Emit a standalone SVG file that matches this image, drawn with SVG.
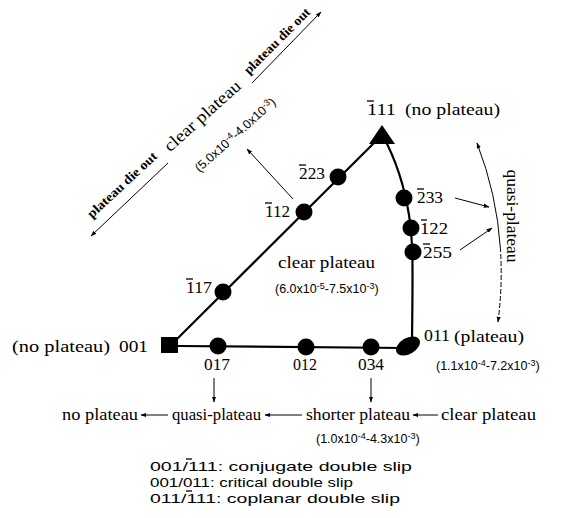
<svg xmlns="http://www.w3.org/2000/svg" width="567" height="518" viewBox="0 0 567 518">
<defs>
<marker id="ah" viewBox="0 0 10 10" refX="9" refY="5" markerWidth="6" markerHeight="6" orient="auto-start-reverse" markerUnits="userSpaceOnUse">
<path d="M0,1.5 L10,5 L0,8.5 z" fill="#000"/>
</marker>
<style>
.s{font-family:"Liberation Serif","Times New Roman",serif;font-size:17px;fill:#000}
.sb{font-family:"Liberation Serif","Times New Roman",serif;font-size:13px;font-weight:bold;fill:#000}
.e{font-family:"Liberation Sans",Arial,sans-serif;font-size:12.5px;fill:#000}
.sup{font-size:9px}
.lg{font-family:"Liberation Sans",Arial,sans-serif;font-size:13.5px;fill:#000}
.ln{stroke:#000;stroke-width:2.2;fill:none}
.ar{stroke:#000;stroke-width:1;fill:none;marker-end:url(#ah)}
.bar{stroke:#000;stroke-width:1.3}
.dot{fill:#000}
</style>
</defs>
<rect width="567" height="518" fill="#fff"/>
<g id="connectors">
<path class="ln" d="M176,340 L377,140"/>
<path class="ln" d="M178,346 L405,348"/>
<path class="ln" d="M383,136 C396,160 405,190 409,215 C413,240 413,262 412,340"/>
<path class="ar" d="M293,199 L247,149"/>
<path class="ar" d="M455,198 L489,207"/>
<path class="ar" d="M460,250 L492,228"/>
<path class="ar" d="M500.4,248.2 Q496.8,194 477,143"/>
<path d="M498,322 Q502.8,284.4 500.4,248.2" stroke="#000" stroke-width="1" fill="none" stroke-dasharray="5,2" marker-start="url(#ah)"/>
<path class="ar" d="M168,163 L91,236"/>
<path class="ar" d="M252,83 L321,12"/>
<path class="ar" d="M214,378 L214,402"/>
<path class="ar" d="M371,378 L371,402"/>
<path class="ar" d="M168,415 L141,415"/>
<path class="ar" d="M302,415 L265,415"/>
<path class="ar" d="M438,415 L413,415"/>
</g>
<g id="node-001">
<rect x="161" y="337" width="17" height="16" class="dot"/>
<text class="s" x="12" y="352" textLength="98" lengthAdjust="spacingAndGlyphs">(no plateau)</text>
<text class="s" x="119" y="352" textLength="29" lengthAdjust="spacingAndGlyphs">001</text>
</g>
<g id="node-111">
<path d="M382,125 L369,144 L395,144 z" class="dot"/>
<text class="s" x="367" y="115" textLength="29" lengthAdjust="spacingAndGlyphs">111</text>
<line class="bar" x1="367" y1="101" x2="374" y2="101"/>
<text class="s" x="405" y="115" textLength="95" lengthAdjust="spacingAndGlyphs">(no plateau)</text>
</g>
<g id="node-011">
<ellipse cx="408" cy="346" rx="13" ry="8" transform="rotate(-30 408 346)" class="dot"/>
<text class="s" x="424" y="341" textLength="26" lengthAdjust="spacingAndGlyphs">011</text>
<text class="s" x="454" y="342" textLength="70" lengthAdjust="spacingAndGlyphs">(plateau)</text>
<text class="e" x="436" y="370">(1.1x10<tspan class="sup" dy="-4">-4</tspan><tspan dy="4">-7.2x10</tspan><tspan class="sup" dy="-4">-3</tspan><tspan dy="4">)</tspan></text>
</g>
<g id="node-117">
<circle cx="223" cy="292" r="8.5" class="dot"/>
<text class="s" x="186" y="293" textLength="26" lengthAdjust="spacingAndGlyphs">117</text>
<line class="bar" x1="186" y1="279" x2="193" y2="279"/>
</g>
<g id="node-112">
<circle cx="304" cy="212" r="8.5" class="dot"/>
<text class="s" x="265" y="217" textLength="25" lengthAdjust="spacingAndGlyphs">112</text>
<line class="bar" x1="265" y1="203" x2="272" y2="203"/>
</g>
<g id="node-223">
<circle cx="338" cy="177" r="8.5" class="dot"/>
<text class="s" x="299" y="179" textLength="26" lengthAdjust="spacingAndGlyphs">223</text>
<line class="bar" x1="299" y1="165" x2="306" y2="165"/>
</g>
<g id="node-233">
<circle cx="404" cy="198" r="8.5" class="dot"/>
<text class="s" x="417" y="203" textLength="26" lengthAdjust="spacingAndGlyphs">233</text>
<line class="bar" x1="417" y1="189" x2="424" y2="189"/>
</g>
<g id="node-122">
<circle cx="411" cy="228" r="8.5" class="dot"/>
<text class="s" x="420" y="234" textLength="28" lengthAdjust="spacingAndGlyphs">122</text>
<line class="bar" x1="421" y1="220" x2="427" y2="220"/>
</g>
<g id="node-255">
<circle cx="413" cy="252" r="8.5" class="dot"/>
<text class="s" x="423" y="258" textLength="29" lengthAdjust="spacingAndGlyphs">255</text>
<line class="bar" x1="423" y1="244" x2="430" y2="244"/>
</g>
<g id="node-017">
<circle cx="218" cy="346" r="8.5" class="dot"/>
<text class="s" x="204" y="370" textLength="26" lengthAdjust="spacingAndGlyphs">017</text>
</g>
<g id="node-012">
<circle cx="306" cy="347" r="8.5" class="dot"/>
<text class="s" x="293" y="370" textLength="24" lengthAdjust="spacingAndGlyphs">012</text>
</g>
<g id="node-034">
<circle cx="371" cy="347" r="8.5" class="dot"/>
<text class="s" x="358" y="370" textLength="26" lengthAdjust="spacingAndGlyphs">034</text>
</g>
<g id="center-label">
<text class="s" x="278" y="268" textLength="97" lengthAdjust="spacingAndGlyphs">clear plateau</text>
<text class="e" x="275" y="293">(6.0x10<tspan class="sup" dy="-4">-5</tspan><tspan dy="4">-7.5x10</tspan><tspan class="sup" dy="-4">-3</tspan><tspan dy="4">)</tspan></text>
</g>
<g id="top-labels">
<text class="s" transform="translate(206,120) rotate(-42)" text-anchor="middle" textLength="97" lengthAdjust="spacingAndGlyphs">clear plateau</text>
<text class="e" transform="translate(238,138) rotate(-42)" text-anchor="middle">(5.0x10<tspan class="sup" dy="-4">-4</tspan><tspan dy="4">-4.0x10</tspan><tspan class="sup" dy="-4">-3</tspan><tspan dy="4">)</tspan></text>
<text class="sb" transform="translate(125,188) rotate(-43)" text-anchor="middle" textLength="90" lengthAdjust="spacingAndGlyphs">plateau die out</text>
<text class="sb" transform="translate(280,44) rotate(-45)" text-anchor="middle" textLength="88" lengthAdjust="spacingAndGlyphs">plateau die out</text>
</g>
<g id="quasi-label">
<text class="s" transform="translate(507,216) rotate(90)" text-anchor="middle" textLength="93" lengthAdjust="spacingAndGlyphs">quasi-plateau</text>
</g>
<g id="bottom-row">
<text class="s" x="62" y="420" textLength="76" lengthAdjust="spacingAndGlyphs">no plateau</text>
<text class="s" x="172" y="420" textLength="89" lengthAdjust="spacingAndGlyphs">quasi-plateau</text>
<text class="s" x="306" y="420" textLength="104" lengthAdjust="spacingAndGlyphs">shorter plateau</text>
<text class="s" x="441" y="420" textLength="95" lengthAdjust="spacingAndGlyphs">clear plateau</text>
<text class="e" x="316" y="443">(1.0x10<tspan class="sup" dy="-4">-4</tspan><tspan dy="4">-4.3x10</tspan><tspan class="sup" dy="-4">-3</tspan><tspan dy="4">)</tspan></text>
</g>
<g id="legend">
<text class="lg" x="150" y="471" textLength="262" lengthAdjust="spacingAndGlyphs">001/111: conjugate double slip</text>
<text class="lg" x="150" y="487" textLength="203" lengthAdjust="spacingAndGlyphs">001/011: critical double slip</text>
<text class="lg" x="150" y="503" textLength="250" lengthAdjust="spacingAndGlyphs">011/111: coplanar double slip</text>
<line class="bar" x1="186" y1="459" x2="192" y2="459"/>
<line class="bar" x1="186" y1="491" x2="192" y2="491"/>
</g>
</svg>
